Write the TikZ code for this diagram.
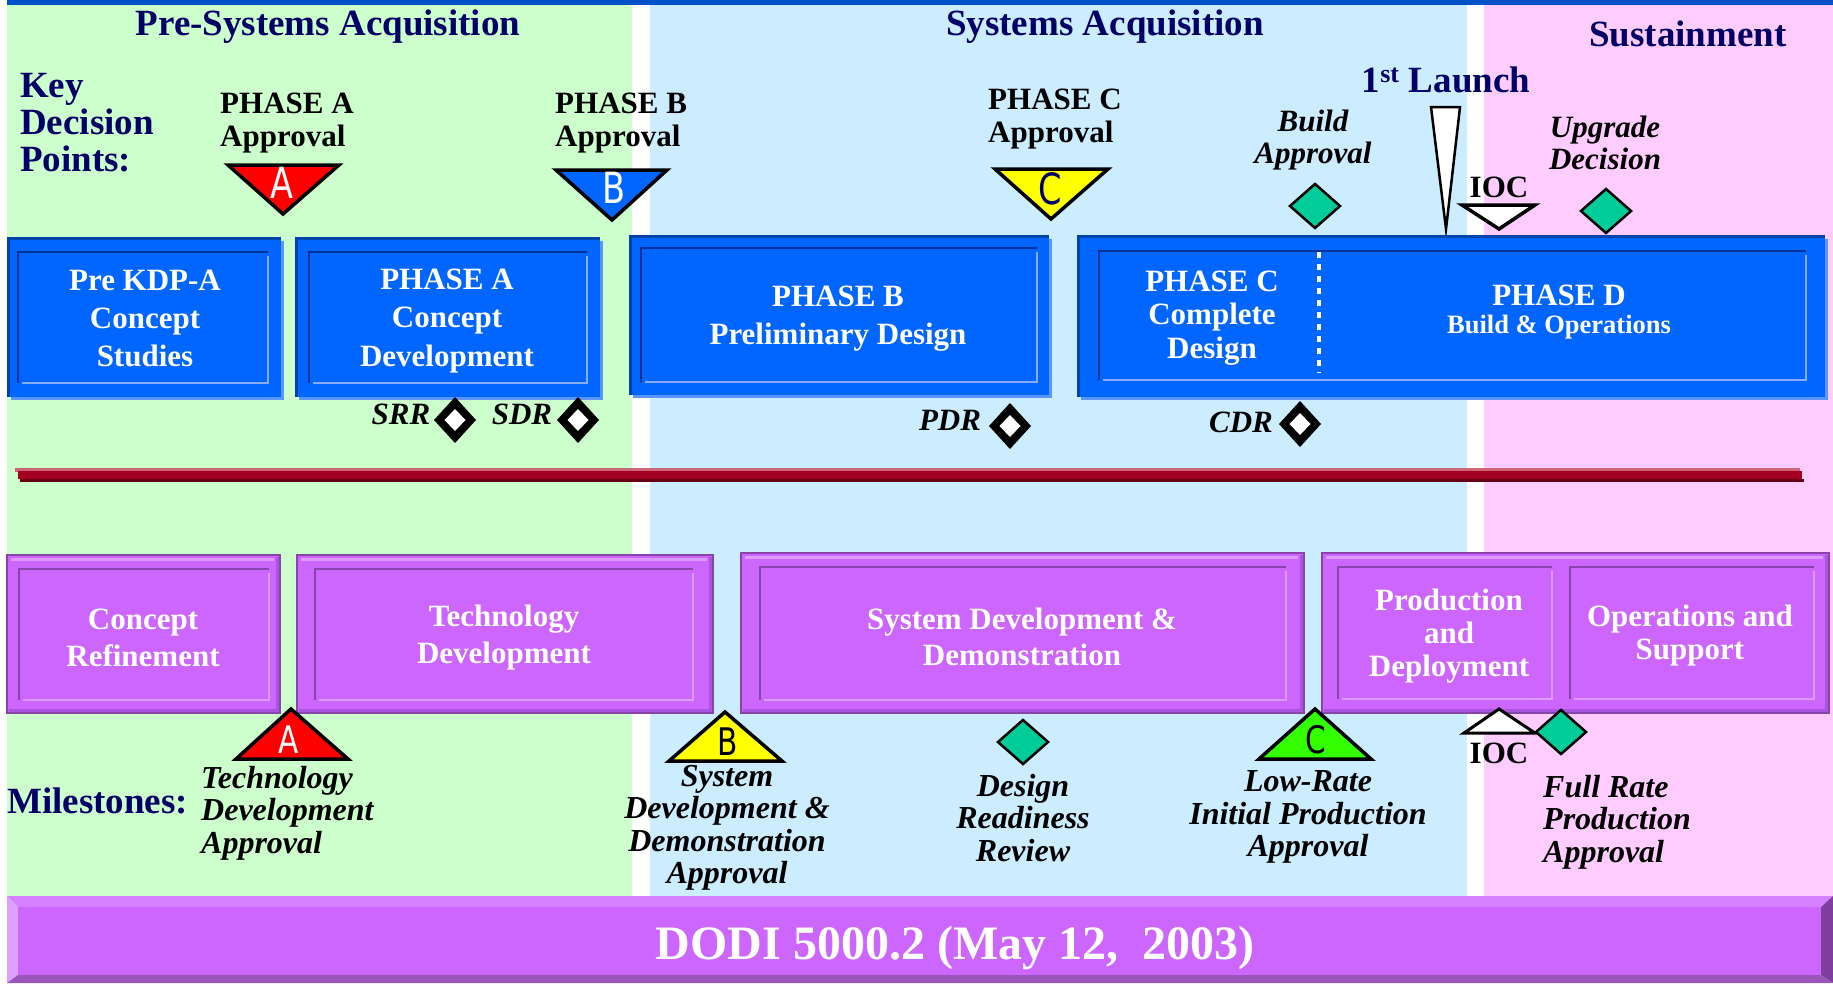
\documentclass[tikz,border=0pt]{standalone}
\usepackage{fontspec}
\setmainfont{Liberation Serif}
\newfontfamily\letterfont{DejaVu Sans}
\definecolor{bgGreen}{RGB}{204,255,204}
\definecolor{bgBlue}{RGB}{204,236,255}
\definecolor{bgPink}{RGB}{255,204,255}
\definecolor{topBar}{RGB}{0,80,200}
\definecolor{navyText}{RGB}{0,0,102}
\definecolor{boxBlue}{RGB}{0,102,255}
\definecolor{boxBlueDark}{RGB}{0,68,170}
\definecolor{boxBlueLight}{RGB}{90,150,255}
\definecolor{innerDark}{RGB}{0,51,153}
\definecolor{innerLight}{RGB}{136,170,255}
\definecolor{boxPurple}{RGB}{204,102,255}
\definecolor{purpleDark}{RGB}{136,68,170}
\definecolor{purpleMid}{RGB}{170,85,221}
\definecolor{purpleLight}{RGB}{221,153,255}
\definecolor{barTop}{RGB}{213,128,255}
\definecolor{barLeft}{RGB}{221,160,255}
\definecolor{barRight}{RGB}{127,63,159}
\definecolor{barBottom}{RGB}{153,85,187}
\definecolor{redMain}{RGB}{163,0,34}
\definecolor{redHi}{RGB}{204,102,119}
\definecolor{redDark}{RGB}{102,0,20}
\definecolor{msTeal}{RGB}{0,204,153}
\definecolor{triRed}{RGB}{255,0,0}
\definecolor{triBlue}{RGB}{0,102,255}
\definecolor{triYellow}{RGB}{255,255,0}
\definecolor{triGreen}{RGB}{51,255,0}

\newcommand\blueframe[8]{%
  \fill[boxBlue] (#1,#2) rectangle (#3,#4);
  \draw[boxBlueLight,line width=3] (#1+4,#4+1.5) -- (#3+1.5,#4+1.5) -- (#3+1.5,#2+4);
  \draw[boxBlueDark,line width=3] (#1+1.5,#4) -- (#1+1.5,#2+1.5) -- (#3,#2+1.5);
  \draw[innerDark,line width=2.5] (#5,#8) -- (#5,#6) -- (#7,#6);
  \draw[innerLight,line width=2.5] (#5+4,#8) -- (#7,#8) -- (#7,#6+4);
}
\newcommand\purpleframe[4]{%
  \fill[boxPurple] (#1,#2) rectangle (#3,#4);
  \draw[purpleLight,line width=3] (#1+4,#2+4.5) -- (#3-6,#2+4.5);
  \draw[purpleMid,line width=4] (#1+2,#4-2) -- (#3-2,#4-2) -- (#3-2,#2+2);
  \draw[purpleDark,line width=1.5] (#1,#2) rectangle (#3,#4);
}
\newcommand\purpleinner[4]{%
  \draw[purpleDark,line width=2.5] (#1,#4) -- (#1,#2) -- (#3,#2);
  \draw[purpleLight,line width=2.5] (#1+4,#4) -- (#3,#4) -- (#3,#2+4);
}
\newcommand\revdiamond[2]{%
  \fill[black] (#1,#2-23) -- (#1+21,#2) -- (#1,#2+23) -- (#1-21,#2) -- cycle;
  \fill[white] (#1,#2-11) -- (#1+10.5,#2) -- (#1,#2+11) -- (#1-10.5,#2) -- cycle;
}
\newcommand\tealdiamond[2]{%
  \filldraw[fill=msTeal,draw=black,line width=2.5,line join=miter] (#1,#2-22) -- (#1+25,#2) -- (#1,#2+22) -- (#1-25,#2) -- cycle;
}

\begin{document}
\begin{tikzpicture}[x=1pt,y=-1pt,
  title/.style={font=\fontsize{37}{37}\selectfont\bfseries, text=navyText, inner sep=0},
  kdplabel/.style={font=\fontsize{31}{33}\selectfont\bfseries, align=left, inner sep=0},
  kdpital/.style={font=\fontsize{31}{32.5}\selectfont\bfseries\itshape, align=center, inner sep=0},
  boxtext/.style={font=\fontsize{31}{38}\selectfont\bfseries, text=white, align=center, inner sep=0},
  mstext/.style={font=\fontsize{32}{32.5}\selectfont\bfseries\itshape, inner sep=0},
  revtext/.style={font=\fontsize{31}{31}\selectfont\bfseries\itshape, inner sep=0},
  lettertop/.style={font=\letterfont\fontsize{43}{43}\selectfont, inner sep=0},
  letterbot/.style={font=\letterfont\fontsize{38}{38}\selectfont, inner sep=0},
  tri/.style={draw=black, line width=3.5, line join=miter}
]
\useasboundingbox (0,0) rectangle (1833,983);
\fill[white] (0,0) rectangle (1833,983);

% background bands
\fill[bgGreen] (7,5) rectangle (632,897);
\fill[bgBlue] (650,5) rectangle (1467,897);
\fill[bgPink] (1484,5) rectangle (1833,897);
\fill[topBar] (7,0) rectangle (1833,5);

% titles
\node[title, anchor=base] (tPre) at (328,35) {Pre-Systems Acquisition};
\node[title, anchor=base] (tSys) at (1105,35) {Systems Acquisition};
\node[title, anchor=base] (tSus) at (1688,46) {Sustainment};
\node[title, anchor=west, align=left, font=\fontsize{37}{37}\selectfont\bfseries] (tKey) at (20,123) {Key\\Decision\\Points:};
\node[title, anchor=base] (tLaunch) at (1446,92) {1\textsuperscript{st} Launch};

% key decision point labels
\node[kdplabel, anchor=west] (apA) at (220,123) {PHASE A\\Approval};
\node[kdplabel, anchor=west] (apB) at (555,123) {PHASE B\\Approval};
\node[kdplabel, anchor=west] (apC) at (988,119) {PHASE C\\Approval};
\node[kdpital] (apBuild) at (1313,140) {Build\\Approval};
\node[kdpital] (apUpg) at (1605,143) {Upgrade\\Decision};
\node[kdplabel, anchor=base] (iocTop) at (1499,197) {IOC};

% down triangles
\filldraw[tri, fill=triRed] (228,165) -- (339,165) -- (283,214) -- cycle;
\node[lettertop, text=white] (lA) at (282,183) {\scalebox{0.78}[1]{A}};
\filldraw[tri, fill=triBlue] (556,170) -- (667,170) -- (612,220) -- cycle;
\node[lettertop, text=white] (lB) at (614,188) {\scalebox{0.78}[1]{B}};
\filldraw[tri, fill=triYellow] (995,169) -- (1108,169) -- (1051,219) -- cycle;
\node[lettertop, text=navyText] (lC) at (1050,189) {\scalebox{0.78}[1]{C}};
\filldraw[fill=white, draw=black, line width=2.5, line join=miter] (1431,107) -- (1460,107) -- (1446,229) -- cycle;
\filldraw[tri, fill=white] (1462,205) -- (1535,205) -- (1499,229) -- cycle;
\tealdiamond{1315}{206}
\tealdiamond{1606}{211}

% blue phase boxes
\blueframe{7}{237}{281}{397}{18}{252}{268}{383}
\blueframe{295}{237}{600}{397}{309}{252}{587}{383}
\blueframe{629}{235}{1049}{395}{641}{248}{1037}{382}
\blueframe{1077}{235}{1825}{397}{1099}{251}{1806}{380}
\draw[white, line width=3.5, dash pattern=on 6 off 6] (1319,252) -- (1319,373);

\node[boxtext] (bKdp) at (145,318) {Pre KDP-A\\Concept\\Studies};
\node[boxtext, font=\fontsize{31}{38.5}\selectfont\bfseries] (bPhA) at (447,321) {PHASE A\\Concept\\Development};
\node[boxtext] (bPhB) at (838,319) {PHASE B\\Preliminary Design};
\node[boxtext, font=\fontsize{31}{33.5}\selectfont\bfseries] (bPhC) at (1212,318) {PHASE C\\Complete\\Design};
\node[boxtext, anchor=base] (bPhD) at (1559,305) {PHASE D};
\node[boxtext, anchor=base, font=\fontsize{26.5}{28}\selectfont\bfseries] (bPhDsub) at (1559,333) {Build \& Operations};

% reviews
\node[revtext, anchor=base] (rSRR) at (401,424) {SRR};
\revdiamond{455}{420}
\node[revtext, anchor=base] (rSDR) at (522,424) {SDR};
\revdiamond{578}{420}
\node[revtext, anchor=base] (rPDR) at (950,430) {PDR};
\revdiamond{1010}{426}
\node[revtext, anchor=base] (rCDR) at (1241,432) {CDR};
\revdiamond{1300}{424}

% red divider
\fill[redHi] (15,468) rectangle (1800,472);
\fill[redMain] (18,471) rectangle (1802,479);
\fill[redDark] (20,479) rectangle (1804,481.5);

% purple boxes
\purpleframe{7}{555}{280}{713}
\purpleinner{19}{569}{269}{700}
\purpleframe{297}{555}{713}{713}
\purpleinner{315}{569}{693}{700}
\purpleframe{741}{553}{1304}{713}
\purpleinner{760}{567}{1286}{700}
\purpleframe{1322}{553}{1829}{713}
\purpleinner{1338}{567}{1552}{699}
\purpleinner{1570}{567}{1814}{699}

\node[boxtext, font=\fontsize{31}{37}\selectfont\bfseries] (pCR) at (143,638) {Concept\\Refinement};
\node[boxtext, font=\fontsize{31}{37}\selectfont\bfseries] (pTD) at (504,638) {Technology\\Development};
\node[boxtext, font=\fontsize{31}{36.5}\selectfont\bfseries] (pSDD) at (1022,637) {System Development \&\\Demonstration};
\node[boxtext, font=\fontsize{31}{32.7}\selectfont\bfseries] (pPD) at (1449,636) {Production\\and\\Deployment};
\node[boxtext, font=\fontsize{31}{33}\selectfont\bfseries] (pOS) at (1690,636) {Operations and\\Support};

% milestone triangles
\filldraw[tri, fill=triRed] (236,759) -- (348,759) -- (291,709) -- cycle;
\node[letterbot, text=white] (mA) at (289,740) {\scalebox{0.78}[1]{A}};
\filldraw[tri, fill=triYellow] (669,761) -- (782,761) -- (725,712) -- cycle;
\node[letterbot, text=black] (mB) at (728,742) {\scalebox{0.78}[1]{B}};
\filldraw[tri, fill=triGreen] (1259,759) -- (1371,759) -- (1315,709) -- cycle;
\node[letterbot, text=black] (mC) at (1316,740) {\scalebox{0.78}[1]{C}};
\filldraw[tri, line width=3, fill=white] (1464,733) -- (1535,733) -- (1499,709) -- cycle;
\node[kdplabel, anchor=base] (iocBot) at (1499,763) {IOC};
\tealdiamond{1023}{742}
\tealdiamond{1561}{732}

% milestone labels
\node[title, anchor=base west] (tMil) at (7,813) {Milestones:};
\node[mstext, anchor=west, align=left] (msA) at (201,813) {Technology\\Development\\Approval};
\node[mstext, align=center] (msB) at (727,828) {System\\Development \&\\Demonstration\\Approval};
\node[mstext, align=center] (msDRR) at (1023,818) {Design\\Readiness\\Review};
\node[mstext, align=center] (msC) at (1308,817) {Low-Rate\\Initial Production\\Approval};
\node[mstext, anchor=west, align=left] (msFRP) at (1543,822) {Full Rate\\Production\\Approval};

% DODI bar
\fill[barTop] (7,896) -- (1833,896) -- (1821,907) -- (18,907) -- cycle;
\fill[barLeft] (7,896) -- (18,907) -- (18,975) -- (7,983) -- cycle;
\fill[barRight] (1833,896) -- (1833,983) -- (1821,975) -- (1821,907) -- cycle;
\fill[barBottom] (7,983) -- (18,975) -- (1821,975) -- (1833,983) -- cycle;
\fill[boxPurple] (18,907) rectangle (1821,975);
\node[font=\fontsize{48}{48}\selectfont\bfseries, text=white, inner sep=0, anchor=base] (dodi) at (955,959) {DODI 5000.2 (May 12,\ \ 2003)};
\end{tikzpicture}
\end{document}
